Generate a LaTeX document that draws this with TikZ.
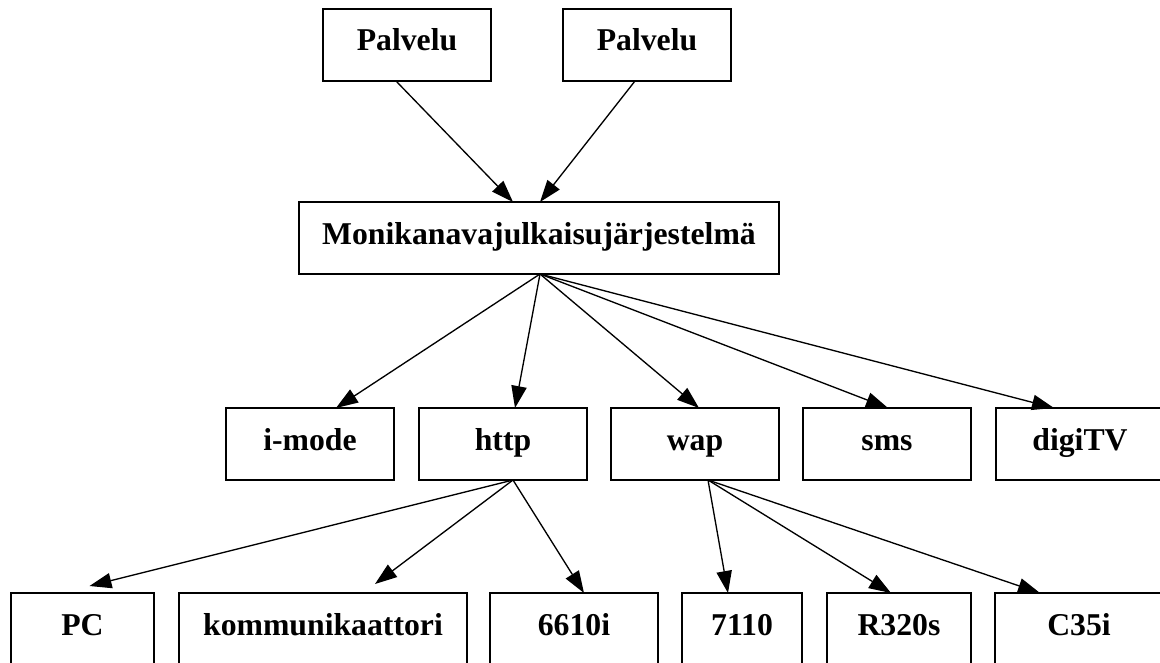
\documentclass[tikz,border=0pt]{standalone}
\usepackage{fontspec}
\setmainfont{Liberation Serif}
\usetikzlibrary{arrows.meta,calc}
\begin{document}
\begin{tikzpicture}[x=0.75pt,y=-0.75pt,
  box/.style={draw,line width=1.1pt,inner sep=0pt,outer sep=0pt,
    minimum height=54pt,font=\fontsize{23.8}{28}\selectfont\bfseries,
    text height=16.4pt,text depth=7.4pt},
  arr/.style={line width=1pt,-{Triangle[length=16.5pt,width=11.5pt]}}]
\useasboundingbox (0,0) rectangle (1160,663);
\clip (0,0) rectangle (1160,663);

% services
\node[box,minimum width=126pt] (p1) at (407,45) {Palvelu};
\node[box,minimum width=126pt] (p2) at (647,45) {Palvelu};

% publishing system
\node[box,minimum width=360pt] (moni) at (539,238) {Monikanavajulkaisujärjestelmä};

% channels
\node[box,minimum width=126pt] (imode)  at (310,444)  {i-mode};
\node[box,minimum width=126pt] (http)   at (503,444)  {http};
\node[box,minimum width=126pt] (wap)    at (695,444)  {wap};
\node[box,minimum width=126pt] (sms)    at (887,444)  {sms};
\node[box,minimum width=126pt] (digitv) at (1080,444) {digiTV};

% terminals
\node[box,minimum width=107.25pt] (pc)    at (82.5,629) {PC};
\node[box,minimum width=216pt]    (komm)  at (323,629)  {kommunikaattori};
\node[box,minimum width=126pt]    (n6610) at (574,629)  {6610i};
\node[box,minimum width=90pt]     (n7110) at (742,629)  {7110};
\node[box,minimum width=108pt]    (r320)  at (899,629)  {R320s};
\node[box,minimum width=126pt]    (c35)   at (1079,629) {C35i};

% services -> system
\draw[arr] ($(p1.south)+(-11,0)$) -- ($(moni.north)+(-26,0)$);
\draw[arr] ($(p2.south)+(-12,0)$) -- ($(moni.north)+(1,0)$);

% system -> channels
\coordinate (ms) at ($(moni.south)+(1,0)$);
\draw[arr] (ms) -- ($(imode.north)+(26,0)$);
\draw[arr] (ms) -- ($(http.north)+(12,0)$);
\draw[arr] (ms) -- ($(wap.north)+(4,0)$);
\draw[arr] (ms) -- ($(sms.north)+(1,0)$);
\draw[arr] (ms) -- ($(digitv.north)+(-26,0)$);

% http -> terminals
\coordinate (hs) at ($(http.south)+(10,0)$);
\draw[arr] (hs) -- ($(pc.north)+(7,-7)$);
\draw[arr] (hs) -- ($(komm.north)+(52,-9)$);
\draw[arr] (hs) -- ($(n6610.north)+(10,0)$);

% wap -> terminals
\coordinate (ws) at ($(wap.south)+(13,0)$);
\draw[arr] (ws) -- ($(n7110.north)+(-14,0)$);
\draw[arr] (ws) -- ($(r320.north)+(-8,0)$);
\draw[arr] (ws) -- ($(c35.north)+(-39,0)$);
\end{tikzpicture}
\end{document}
